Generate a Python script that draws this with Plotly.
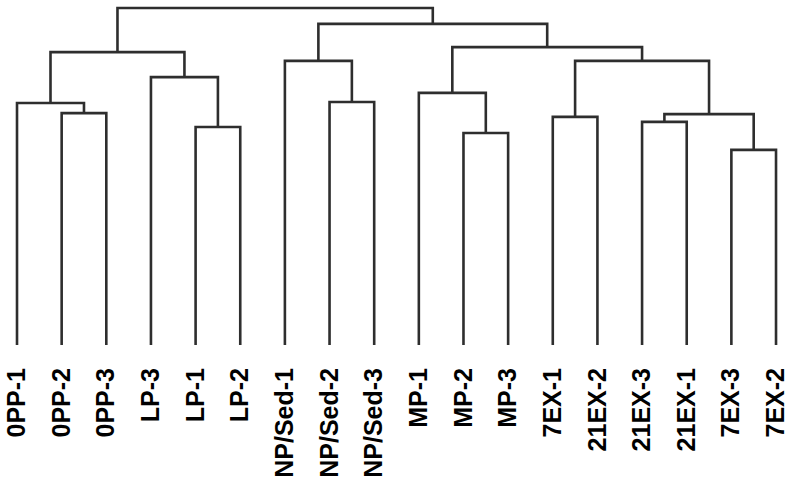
import plotly.graph_objects as go

# Leaf labels in display order
leaf_labels = ["0PP-1", "0PP-2", "0PP-3", "LP-3", "LP-1", "LP-2",
               "NP/Sed-1", "NP/Sed-2", "NP/Sed-3", "MP-1", "MP-2", "MP-3",
               "7EX-1", "21EX-2", "21EX-3", "21EX-1", "7EX-3", "7EX-2"]

# Linkage (scipy style): indices >= 18 refer to earlier merges
merge_left = [16, 10, 4, 14, 12, 21, 1, 0, 7, 9, 3, 6, 22, 25, 27, 29, 31]
merge_right = [17, 11, 5, 15, 13, 18, 2, 24, 8, 19, 20, 26, 23, 28, 30, 32, 33]
merge_height = [0.579, 0.629, 0.647, 0.662, 0.677, 0.685, 0.688, 0.718, 0.721,
                0.748, 0.795, 0.843, 0.843, 0.869, 0.884, 0.953, 1.0]

n = len(leaf_labels)
pos = {i: (float(i), 0.0) for i in range(n)}
xs, ys = [], []
for k, (a, b, h) in enumerate(zip(merge_left, merge_right, merge_height)):
    xa, ha = pos[a]
    xb, hb = pos[b]
    xs += [xa, xa, xb, xb, None]
    ys += [ha, h, h, hb, None]
    pos[n + k] = ((xa + xb) / 2.0, h)

fig = go.Figure()
fig.add_trace(go.Scatter(x=xs, y=ys, mode="lines",
                         line=dict(color="#2e2e2e", width=2.6),
                         hoverinfo="skip", showlegend=False))

fig.update_layout(
    width=792, height=486,
    margin=dict(l=0, r=0, t=0, b=141, autoexpand=False),
    paper_bgcolor="white", plot_bgcolor="white",
    xaxis=dict(range=[-0.381, n - 1 + 0.358], showgrid=False, zeroline=False,
               showline=False, ticks="", tickmode="array", automargin=False,
               tickvals=list(range(n)), ticktext=leaf_labels, tickangle=-90,
               ticklabelstandoff=17, ticklabeloverflow="allow",
               tickfont=dict(family="Liberation Sans, Arial", size=25, color="black",
                             weight="bold")),
    yaxis=dict(range=[0, 345 / 337], showgrid=False, zeroline=False, automargin=False,
               showline=False, showticklabels=False, ticks=""),
)

fig.write_html("out.html",
               config={"displayModeBar": False},
               post_script="document.body.style.margin='0';document.body.style.overflow='hidden';")
